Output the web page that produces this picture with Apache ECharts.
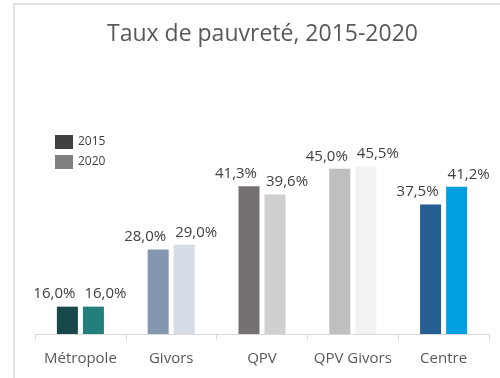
<!DOCTYPE html>
<html>
<head>
<meta charset="utf-8">
<script src="https://cdn.jsdelivr.net/npm/echarts@6/dist/echarts.min.js"></script>
<style>
  html, body { margin: 0; padding: 0; background: #fff; }
  #chart { width: 500px; height: 378px; }
</style>
</head>
<body>
<div id="chart"></div>
<script>
// Poverty rates by territory, 2015 vs 2020
const categories = ['Métropole', 'Givors', 'QPV', 'QPV Givors', 'Centre'];
const rate2015 = [16.0, 28.0, 41.3, 45.0, 37.5];
const rate2020 = [16.0, 29.0, 39.6, 45.5, 41.2];
const colors2015 = ['#17484A', '#8497B0', '#767171', '#BFBFBF', '#255E91'];
const colors2020 = ['#237F7B', '#D6DCE5', '#D0CECE', '#F2F2F2', '#00A0E0'];

const font = '"Open Sans", "Noto Sans", sans-serif';
const fmt = p => p.value.toFixed(1).replace('.', ',') + '%';

function buildData(values, cols) {
  return values.map((v, i) => ({ value: v, itemStyle: { color: cols[i] } }));
}

const chart = echarts.init(document.getElementById('chart'), null, { renderer: 'canvas' });
chart.setOption({
  backgroundColor: '#ffffff',
  animation: false,
  title: {
    text: 'Taux de pauvreté, 2015-2020',
    left: 102,
    top: 18,
    textStyle: { fontFamily: font, fontSize: 23, fontWeight: 'normal', color: '#595959' }
  },
  graphic: [{
    type: 'polyline',
    shape: { points: [[14, 400], [14, 4], [520, 4]] },
    style: { stroke: '#D9D9D9', lineWidth: 1.5, fill: null },
    silent: true
  }],
  legend: {
    orient: 'vertical',
    left: 50,
    top: 130,
    itemWidth: 18,
    itemHeight: 14,
    itemGap: 6,
    icon: 'rect',
    data: ['2015', '2020'],
    textStyle: { fontFamily: font, fontSize: 12, color: '#404040' }
  },
  grid: { left: 35, right: 11, top: 145, bottom: 44 },
  xAxis: {
    type: 'category',
    data: categories,
    axisLine: { lineStyle: { color: '#D9D9D9', width: 1 } },
    axisTick: { show: true, length: 6, lineStyle: { color: '#D9D9D9' } },
    axisLabel: { fontFamily: font, fontSize: 15, color: '#595959', margin: 17, interval: 0 }
  },
  yAxis: {
    type: 'value',
    min: 10.25,
    max: 50,
    show: false,
    splitLine: { show: false }
  },
  series: [
    {
      name: '2015',
      type: 'bar',
      barWidth: 21,
      barGap: '24%',
      itemStyle: { color: '#404040' },
      data: buildData(rate2015, colors2015),
      label: {
        show: true, position: 'top', distance: 5, offset: [-13, 0], formatter: fmt,
        fontFamily: font, fontSize: 15, color: '#404040'
      }
    },
    {
      name: '2020',
      type: 'bar',
      barWidth: 21,
      itemStyle: { color: '#808080' },
      data: buildData(rate2020, colors2020),
      label: {
        show: true, position: 'top', distance: 5, offset: [12, 0], formatter: fmt,
        fontFamily: font, fontSize: 15, color: '#404040'
      }
    }
  ]
});
</script>
</body>
</html>
